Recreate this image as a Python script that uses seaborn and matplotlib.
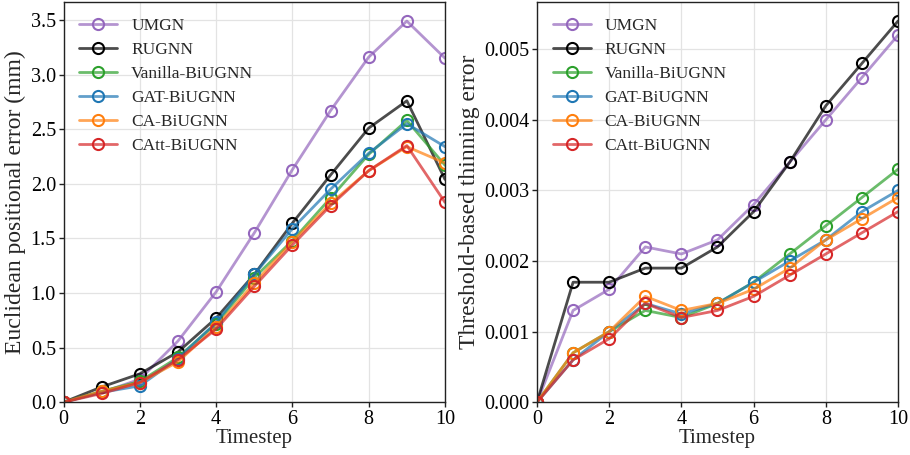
import numpy as np
import pandas as pd
import seaborn as sns
import matplotlib.pyplot as plt
from matplotlib.colors import to_rgba

sns.set_theme(style="ticks")
plt.rcParams['font.family'] = ['Liberation Serif', 'DejaVu Serif']
plt.rcParams['mathtext.fontset'] = 'stix'

timesteps = [0, 1, 2, 3, 4, 5, 6, 7, 8, 9, 10]
models = ["UMGN", "RUGNN", "Vanilla-BiUGNN", "GAT-BiUGNN", "CA-BiUGNN", "CAtt-BiUGNN"]
colors = ["#9467bd", "#000000", "#2ca02c", "#1f77b4", "#ff7f0e", "#d62728"]

# Euclidean positional error (mm)
euc_umgn = [0.0, 0.09, 0.21, 0.56, 1.01, 1.55, 2.13, 2.67, 3.16, 3.49, 3.15]
euc_rugnn = [0.0, 0.14, 0.26, 0.46, 0.77, 1.17, 1.64, 2.08, 2.51, 2.76, 2.04]
euc_vanilla = [0.0, 0.10, 0.19, 0.41, 0.72, 1.14, 1.48, 1.87, 2.27, 2.58, 2.17]
euc_gat = [0.0, 0.09, 0.15, 0.40, 0.73, 1.17, 1.59, 1.95, 2.28, 2.55, 2.34]
euc_ca = [0.0, 0.10, 0.18, 0.37, 0.69, 1.09, 1.47, 1.82, 2.12, 2.34, 2.19]
euc_catt = [0.0, 0.08, 0.18, 0.39, 0.67, 1.06, 1.44, 1.80, 2.12, 2.35, 1.83]

# Threshold-based thinning error
thr_umgn = [0.0, 0.0013, 0.0016, 0.0022, 0.0021, 0.0023, 0.0028, 0.0034, 0.0040, 0.0046, 0.0052]
thr_rugnn = [0.0, 0.0017, 0.0017, 0.0019, 0.0019, 0.0022, 0.0027, 0.0034, 0.0042, 0.0048, 0.0054]
thr_vanilla = [0.0, 0.0007, 0.0010, 0.0013, 0.0012, 0.0014, 0.0017, 0.0021, 0.0025, 0.0029, 0.0033]
thr_gat = [0.0, 0.0006, 0.0010, 0.0014, 0.00125, 0.0014, 0.0017, 0.0020, 0.0023, 0.0027, 0.0030]
thr_ca = [0.0, 0.0007, 0.0010, 0.0015, 0.0013, 0.0014, 0.0016, 0.0019, 0.0023, 0.0026, 0.0029]
thr_catt = [0.0, 0.0006, 0.0009, 0.0014, 0.0012, 0.0013, 0.0015, 0.0018, 0.0021, 0.0024, 0.0027]

euc_series = [euc_umgn, euc_rugnn, euc_vanilla, euc_gat, euc_ca, euc_catt]
thr_series = [thr_umgn, thr_rugnn, thr_vanilla, thr_gat, thr_ca, thr_catt]

fig = plt.figure(figsize=(9.1, 4.55), dpi=100)
ax1 = fig.add_axes([0.0698, 0.116, 0.4192, 0.8796])
ax2 = fig.add_axes([0.5901, 0.116, 0.3967, 0.8796])


def draw(ax, series, ylabel):
    for name, vals, c in zip(models, series, colors):
        df = pd.DataFrame({"Timestep": timesteps, "value": vals})
        sns.lineplot(data=df, x="Timestep", y="value", ax=ax,
                     color=to_rgba(c, 0.7), linewidth=2.0,
                     marker="o", markersize=8, markerfacecolor="none",
                     markeredgecolor=to_rgba(c, 1.0), markeredgewidth=1.5,
                     label=name)
    ax.set_xlim(0, 10)
    ax.set_ylim(bottom=0)
    ax.set_xticks([0, 2, 4, 6, 8, 10])
    ax.grid(True, color="#e3e3e3", linewidth=0.9)
    ax.set_axisbelow(True)
    ax.set_xlabel("Timestep", fontsize=15, labelpad=0)
    ax.set_ylabel(ylabel, fontsize=17, labelpad=3)
    ax.tick_params(labelsize=14.5, length=3.5, width=1, pad=2, colors="#222222")
    ax.tick_params(labelcolor="black")
    for s in ax.spines.values():
        s.set_color("#222222")
        s.set_linewidth(1.0)
    ax.legend(loc="upper left", frameon=False, fontsize=12.5,
              handlelength=2.2, labelspacing=0.45)


draw(ax1, euc_series, "Euclidean positional error (mm)")
draw(ax2, thr_series, "Threshold-based thinning error")

fig.savefig("out.png", dpi=100)
